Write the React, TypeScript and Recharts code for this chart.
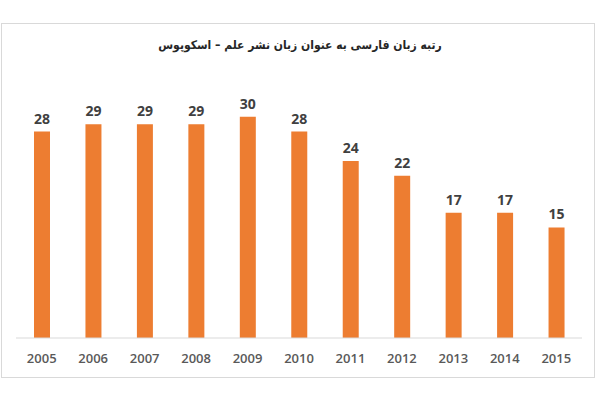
import React from 'react';
import { BarChart, Bar, XAxis, YAxis, LabelList } from 'recharts';

const years = ['2005', '2006', '2007', '2008', '2009', '2010', '2011', '2012', '2013', '2014', '2015'];
const ranks = [28, 29, 29, 29, 30, 28, 24, 22, 17, 17, 15];
const title = 'رتبه زبان فارسی به عنوان زبان نشر علم – اسکوپوس';

const data = years.map((year, i) => ({ year, rank: ranks[i] }));

export default function App() {
  return (
    <div style={{ position: 'absolute', left: 0, top: 0, width: 600, height: 400, background: '#fff' }}>
      {/* chart frame */}
      <div
        style={{
          position: 'absolute',
          left: 1,
          top: 23,
          width: 594,
          height: 355,
          border: '1px solid #d9d9d9',
          boxSizing: 'border-box',
        }}
      />
      <div
        dir="rtl"
        style={{
          position: 'absolute',
          left: 0,
          top: 38,
          width: 600,
          textAlign: 'center',
          fontFamily: '"DejaVu Sans Condensed", "DejaVu Sans", sans-serif',
          fontWeight: 'bold',
          fontSize: 12,
          color: '#262626',
        }}
      >
        {title}
      </div>
      <div style={{ position: 'absolute', left: 0, top: 0 }}>
        <BarChart
          width={600}
          height={400}
          data={data}
          margin={{ top: 80, right: 18, bottom: 32, left: 16 }}
          barSize={16}
        >
          <XAxis
            dataKey="year"
            height={30}
            axisLine={{ stroke: '#d9d9d9' }}
            tickLine={false}
            tick={{ fill: '#595959', fontSize: 13, fontWeight: 600, fontFamily: '"Open Sans", sans-serif' }}
            tickMargin={10}
          />
          <YAxis hide domain={[0, 35]} />
          <Bar dataKey="rank" fill="#ED7D31" isAnimationActive={false}>
            <LabelList
              dataKey="rank"
              position="top"
              offset={8}
              fill="#404040"
              fontSize={14}
              fontWeight="bold"
              fontFamily='"Open Sans", sans-serif'
            />
          </Bar>
        </BarChart>
      </div>
    </div>
  );
}
